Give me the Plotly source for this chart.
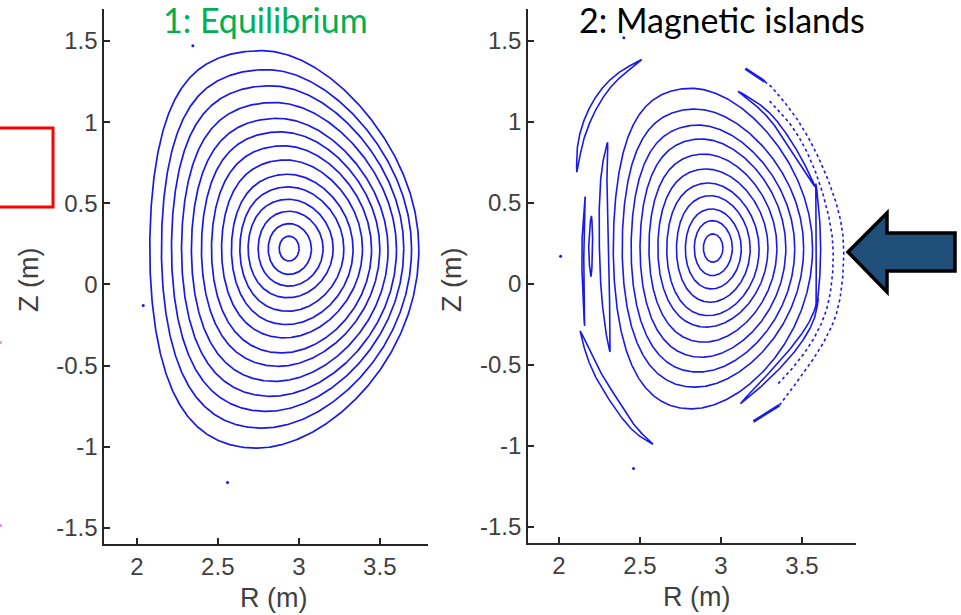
import numpy as np
import plotly.graph_objects as go

# ---------------- data ----------------
# Panel 1: equilibrium flux surfaces, outermost -> innermost (metres)
EQ_R_IN = [2.080, 2.152, 2.214, 2.276, 2.337, 2.399, 2.461, 2.523, 2.584, 2.636, 2.687, 2.749, 2.811, 2.879]
EQ_R_OUT = [3.741, 3.696, 3.648, 3.603, 3.551, 3.500, 3.449, 3.393, 3.335, 3.278, 3.212, 3.150, 3.078, 3.002]
EQ_Z_TOP = [1.440, 1.323, 1.224, 1.121, 1.023, 0.940, 0.854, 0.767, 0.679, 0.601, 0.525, 0.451, 0.375, 0.298]
EQ_Z_BOT = [-1.008, -0.885, -0.782, -0.689, -0.597, -0.504, -0.422, -0.329, -0.247, -0.165, -0.082, -0.010, 0.062, 0.144]
EQ_TRI = (0.17, 0.21)                  # upper / lower triangularity of the edge surface
EQ_SQUARE = (-0.04, 0.12, 0.06, 0.0)   # squareness: upper-right, upper-left, lower-left, lower-right

# Panel 2: remaining closed surfaces, outermost -> innermost
IS_R_IN = [2.335, 2.390, 2.445, 2.500, 2.555, 2.610, 2.665, 2.725, 2.780, 2.835, 2.891]
IS_R_OUT = [3.565, 3.510, 3.455, 3.400, 3.345, 3.290, 3.235, 3.180, 3.125, 3.070, 3.012]
IS_Z_TOP = [1.208, 1.080, 0.981, 0.895, 0.802, 0.710, 0.623, 0.545, 0.463, 0.391, 0.309]
IS_Z_BOT = [-0.772, -0.638, -0.545, -0.453, -0.360, -0.267, -0.196, -0.113, -0.031, 0.051, 0.134]
IS_TRI = (0.22, 0.22)
IS_SQUARE = (-0.02, 0.08, 0.04, 0.0)

# Panel 2: magnetic islands (centre lines) and their half widths
ISL_A_R = [2.11, 2.13, 2.21, 2.33, 2.51]; ISL_A_Z = [0.69, 0.895, 1.10, 1.265, 1.386]; ISL_A_W = 0.02
ISL_B_R = [2.30, 2.275, 2.275, 2.28, 2.285, 2.30, 2.315]; ISL_B_Z = [0.875, 0.69, 0.40, 0.20, -0.05, -0.28, -0.42]; ISL_B_W = 0.03
ISL_G_R = [2.162, 2.150, 2.146, 2.150, 2.158]; ISL_G_Z = [0.54, 0.35, 0.20, -0.05, -0.26]; ISL_G_W = 0.006
ISL_H_R = [2.200, 2.196, 2.195, 2.198]; ISL_H_Z = [0.42, 0.30, 0.15, 0.045]; ISL_H_W = 0.012
ISL_I_R = [2.13, 2.21, 2.33, 2.46, 2.58]; ISL_I_Z = [-0.29, -0.51, -0.71, -0.90, -0.99]; ISL_I_W = 0.022
ISL_D_R = [3.105, 3.28, 3.41, 3.51, 3.58]; ISL_D_Z = [1.19, 1.07, 0.895, 0.73, 0.60]; ISL_D_W = 0.015
ISL_E_R = [3.585, 3.598, 3.602, 3.598, 3.588]; ISL_E_Z = [0.62, 0.40, 0.20, 0.0, -0.15]; ISL_E_W = 0.014
ISL_F_R = [3.60, 3.57, 3.47, 3.30, 3.12]; ISL_F_Z = [-0.09, -0.22, -0.38, -0.57, -0.74]; ISL_F_W = 0.016

# Panel 2: stochastic edge (dotted) and its thick ends
STO1_R = [3.27, 3.31, 3.49, 3.63, 3.735, 3.765, 3.735, 3.65, 3.53, 3.36]
STO1_Z = [1.25, 1.224, 1.00, 0.73, 0.44, 0.20, -0.14, -0.34, -0.525, -0.75]
STO2_R = [3.30, 3.45, 3.575, 3.665, 3.70, 3.675, 3.60, 3.48, 3.34]
STO2_Z = [1.13, 0.97, 0.73, 0.44, 0.20, -0.10, -0.30, -0.48, -0.63]
END_TOP_R = [3.15, 3.27]; END_TOP_Z = [1.33, 1.25]
END_BOT_R = [3.20, 3.36]; END_BOT_Z = [-0.85, -0.75]

# stray Poincare points
DOT1_R = [2.346, 2.04, 2.56]; DOT1_Z = [1.47, -0.13, -1.22]
DOT2_R = [2.40, 2.01, 2.46]; DOT2_Z = [1.52, 0.17, -1.14]

X_TICKS = [2, 2.5, 3, 3.5]; X_TICK_TEXT = ["2", "2.5", "3", "3.5"]
Y_TICKS = [-1.5, -1, -0.5, 0, 0.5, 1, 1.5]; Y_TICK_TEXT = ["-1.5", "-1", "-0.5", "0", "0.5", "1", "1.5"]
TITLE1 = "1: Equilibrium"; TITLE2 = "2: Magnetic islands"
XLABEL = "R (m)"; YLABEL = "Z (m)"

# ---------------- helpers ----------------
W, H = 961, 615
BLUE = "rgb(25,25,235)"
AX = "#262626"


def px(x):
    return x / W


def py(y):
    return 1 - y / H


def surfaces(r_in, r_out, z_top, z_bot, tri, sq):
    xs, ys = [], []
    a_edge = (r_out[0] - r_in[0]) / 2
    th = np.linspace(0, 2 * np.pi, 600)
    s, c = np.sin(th), np.cos(th)
    quad_sq = np.where(s >= 0, np.where(c >= 0, sq[0], sq[1]), np.where(c < 0, sq[2], sq[3]))
    for ri, ro, zt, zb in zip(r_in, r_out, z_top, z_bot):
        r0, a = (ri + ro) / 2, (ro - ri) / 2
        z0, b = (zt + zb) / 2, (zt - zb) / 2
        f = a / a_edge
        d = np.where(s >= 0, tri[0], tri[1]) * f
        z_sq = quad_sq * f
        xs += list(r0 + a * np.cos(th + d * s)) + [None]
        ys += list(z0 + b * np.sin(th + z_sq * np.sin(2 * th))) + [None]
    return xs, ys


def chaikin(x, y, n=4):
    p = np.column_stack([x, y]).astype(float)
    for _ in range(n):
        q = 0.75 * p[:-1] + 0.25 * p[1:]
        r = 0.25 * p[:-1] + 0.75 * p[1:]
        new = np.empty((2 * len(q), 2))
        new[0::2], new[1::2] = q, r
        p = np.vstack([p[:1], new, p[-1:]])
    return p


def resample(x, y, n=240):
    p = chaikin(x, y)
    d = np.r_[0, np.cumsum(np.hypot(*np.diff(p, axis=0).T))]
    s = np.linspace(0, d[-1], n)
    return np.interp(s, d, p[:, 0]), np.interp(s, d, p[:, 1]), s / d[-1]


def island(rc, zc, hw):
    x, y, t = resample(rc, zc)
    dx, dy = np.gradient(x), np.gradient(y)
    L = np.hypot(dx, dy)
    nx, ny = -dy / L, dx / L
    w = hw * np.sin(np.pi * t) ** 0.7
    X = np.r_[x + nx * w, (x - nx * w)[::-1], x[0]]
    Y = np.r_[y + ny * w, (y - ny * w)[::-1], y[0]]
    return list(X) + [None], list(Y) + [None]


fig = go.Figure()

# panel 1
sx, sy = surfaces(EQ_R_IN, EQ_R_OUT, EQ_Z_TOP, EQ_Z_BOT, EQ_TRI, EQ_SQUARE)
fig.add_trace(go.Scatter(x=sx, y=sy, mode="lines", line=dict(color=BLUE, width=1.7),
                         xaxis="x", yaxis="y", hoverinfo="skip"))
fig.add_trace(go.Scatter(x=DOT1_R, y=DOT1_Z, mode="markers", marker=dict(color=BLUE, size=3),
                         xaxis="x", yaxis="y", hoverinfo="skip"))

# panel 2
sx, sy = surfaces(IS_R_IN, IS_R_OUT, IS_Z_TOP, IS_Z_BOT, IS_TRI, IS_SQUARE)
ix, iy = [], []
for rc, zc, hw in [(ISL_A_R, ISL_A_Z, ISL_A_W), (ISL_B_R, ISL_B_Z, ISL_B_W), (ISL_G_R, ISL_G_Z, ISL_G_W),
                   (ISL_H_R, ISL_H_Z, ISL_H_W), (ISL_I_R, ISL_I_Z, ISL_I_W), (ISL_D_R, ISL_D_Z, ISL_D_W),
                   (ISL_E_R, ISL_E_Z, ISL_E_W), (ISL_F_R, ISL_F_Z, ISL_F_W)]:
    a, b = island(rc, zc, hw)
    ix += a
    iy += b
fig.add_trace(go.Scatter(x=sx + ix, y=sy + iy, mode="lines", line=dict(color=BLUE, width=1.6),
                         xaxis="x2", yaxis="y2", hoverinfo="skip"))
for rc, zc in [(STO1_R, STO1_Z), (STO2_R, STO2_Z)]:
    x, y, _ = resample(rc, zc)
    fig.add_trace(go.Scatter(x=x, y=y, mode="lines", line=dict(color=BLUE, width=1.6, dash="dot"),
                             xaxis="x2", yaxis="y2", hoverinfo="skip"))
for rc, zc in [(END_TOP_R, END_TOP_Z), (END_BOT_R, END_BOT_Z)]:
    fig.add_trace(go.Scatter(x=rc, y=zc, mode="lines", line=dict(color=BLUE, width=2.8),
                             xaxis="x2", yaxis="y2", hoverinfo="skip"))
fig.add_trace(go.Scatter(x=DOT2_R, y=DOT2_Z, mode="markers", marker=dict(color=BLUE, size=3),
                         xaxis="x2", yaxis="y2", hoverinfo="skip"))

tickfont = dict(family="Liberation Sans, Arial, sans-serif", size=24, color="#404040")
common_x = dict(tickvals=X_TICKS, ticktext=X_TICK_TEXT, ticks="inside", ticklen=6, tickwidth=1.5,
                tickcolor=AX, showline=True, linecolor=AX, linewidth=2, showgrid=False,
                zeroline=False, tickfont=tickfont, fixedrange=True)
common_y = dict(tickvals=Y_TICKS, ticktext=Y_TICK_TEXT, ticks="inside", ticklen=6, tickwidth=1.5,
                tickcolor=AX, showline=True, linecolor=AX, linewidth=2, showgrid=False,
                zeroline=False, tickfont=tickfont, fixedrange=True, range=[-1.6, 1.7])

fig.update_layout(
    width=W, height=H, margin=dict(l=0, r=0, t=0, b=0), showlegend=False,
    plot_bgcolor="white", paper_bgcolor="white",
    xaxis=dict(domain=[px(104.4), px(428.4)], range=[1.8, 3.8], anchor="y", **common_x),
    yaxis=dict(domain=[py(544.2), py(8.5)], anchor="x", **common_y),
    xaxis2=dict(domain=[px(528.2), px(855.5)], range=[1.81, 3.83], anchor="y2", **common_x),
    yaxis2=dict(domain=[py(542.9), py(8.7)], anchor="x2", **common_y),
)

lab = dict(family="Liberation Sans, Arial, sans-serif", size=27, color="#404040")
ttl = dict(family="Lato, sans-serif", size=34)
ann = [
    dict(text=TITLE1, x=px(265), y=py(20), font=dict(color="#00B050", **ttl)),
    dict(text=TITLE2, x=px(722), y=py(20), font=dict(color="#000000", **ttl)),
    dict(text=XLABEL, x=px(273), y=py(598), font=lab),
    dict(text=XLABEL, x=px(696), y=py(597), font=lab),
    dict(text=YLABEL, x=px(29), y=py(280), font=lab, textangle=-90),
    dict(text=YLABEL, x=px(452), y=py(280), font=lab, textangle=-90),
]
for a in ann:
    a.update(xref="paper", yref="paper", showarrow=False, xanchor="center", yanchor="middle")
fig.update_layout(annotations=ann)

arrow = [(848, 252), (887, 213), (887, 233), (955, 233), (955, 271), (887, 271), (887, 292)]
path = "M " + " L ".join(f"{px(x):.5f},{py(y):.5f}" for x, y in arrow) + " Z"
fig.update_layout(shapes=[
    dict(type="path", xref="paper", yref="paper", path=path, fillcolor="#1F4E79",
         line=dict(color="black", width=3.5)),
    dict(type="rect", xref="paper", yref="paper", x0=px(-5), x1=px(53), y0=py(207), y1=py(128),
         line=dict(color="#FF0000", width=3)),
    dict(type="circle", xref="paper", yref="paper", x0=px(-1), x1=px(2), y0=py(344), y1=py(341),
         line=dict(width=0), fillcolor="#e090e0"),
    dict(type="circle", xref="paper", yref="paper", x0=px(-1), x1=px(2), y0=py(527), y1=py(524),
         line=dict(width=0), fillcolor="#e090e0"),
])

fig.write_html("out.html", config={"displayModeBar": False},
               post_script="document.body.style.margin='0';document.body.style.overflow='hidden';")
